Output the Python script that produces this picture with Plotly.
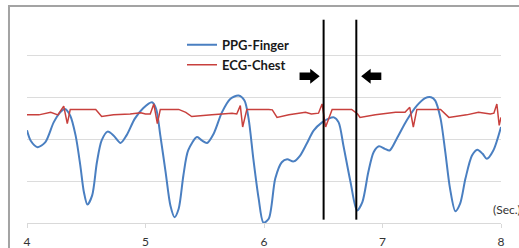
import plotly.graph_objects as go

# ---------------- data ----------------
ppg_t = [4.00, 4.03, 4.09, 4.155, 4.225, 4.28, 4.32, 4.365, 4.41, 4.45, 4.48, 4.51, 4.55, 4.59, 4.63,
         4.68, 4.73, 4.79, 4.84, 4.91, 4.98, 5.055, 5.09, 5.125, 5.17, 5.21, 5.245, 5.28, 5.32, 5.36,
         5.435, 5.475, 5.52, 5.575, 5.645, 5.715, 5.785, 5.835, 5.87, 5.91, 5.955, 5.995, 6.04, 6.095,
         6.15, 6.195, 6.25, 6.305, 6.36, 6.42, 6.49, 6.545, 6.59, 6.63, 6.67, 6.73, 6.785, 6.83, 6.88,
         6.925, 6.97, 7.02, 7.06, 7.12, 7.205, 7.29, 7.36, 7.41, 7.445, 7.49, 7.53, 7.57, 7.615, 7.655,
         7.70, 7.755, 7.80, 7.845, 7.88, 7.935, 8.00]
ppg_v = [2.21, 1.97, 1.81, 1.93, 2.40, 2.64, 2.72, 2.56, 2.09, 1.37, 0.74, 0.44, 0.66, 1.45, 1.97,
         2.18, 2.09, 1.91, 2.09, 2.49, 2.74, 2.88, 2.72, 2.09, 1.21, 0.42, 0.14, 0.34, 1.14, 1.73,
         2.05, 1.97, 1.91, 2.13, 2.64, 2.96, 3.04, 2.92, 2.49, 1.53, 0.58, 0.01, 0.10, 1.06,
         1.45, 1.52, 1.47, 1.61, 1.89, 2.21, 2.40, 2.49, 2.52, 2.40, 1.85, 0.98, 0.30, 0.50, 1.21,
         1.69, 1.83, 1.77, 1.73, 2.01, 2.45, 2.80, 2.98, 3.00, 2.92, 2.49, 1.69, 0.82, 0.28, 0.46,
         1.06, 1.61, 1.75, 1.65, 1.53, 1.73, 2.29]

ecg_t = [4.00, 4.10, 4.20, 4.26, 4.31, 4.34, 4.365, 4.45, 4.58, 4.63, 4.73, 4.87, 4.96,
         5.00, 5.04, 5.07, 5.10, 5.125, 5.28, 5.34, 5.39, 5.56, 5.73, 5.77, 5.80, 5.82, 5.855,
         6.04, 6.07, 6.11, 6.21, 6.35, 6.40, 6.46, 6.49, 6.52, 6.575, 6.74, 6.79, 6.81, 6.94,
         7.11, 7.19, 7.23, 7.26, 7.29, 7.49, 7.56, 7.71, 7.81, 7.91, 7.94, 7.965, 7.985, 8.00]
ecg_v = [2.58, 2.58, 2.64, 2.58, 2.79, 2.37, 2.71, 2.71, 2.71, 2.54, 2.58, 2.60, 2.63,
         2.60, 2.60, 2.84, 2.37, 2.71, 2.71, 2.64, 2.54, 2.58, 2.62, 2.60, 2.80, 2.29, 2.71,
         2.71, 2.70, 2.52, 2.58, 2.64, 2.60, 2.62, 2.84, 2.29, 2.71, 2.71, 2.60, 2.52, 2.58,
         2.64, 2.64, 2.76, 2.29, 2.71, 2.71, 2.52, 2.58, 2.64, 2.60, 2.62, 2.84, 2.33, 2.52]

marker_times = [6.503, 6.779]
marker_span = [0.08, 4.85]
x_ticks = [4, 5, 6, 7, 8]
x_tick_labels = ["4", "5", "6", "7", "8"]
unit_label = "(Sec.)"

# ---------------- figure ----------------
fig = go.Figure()
fig.add_trace(go.Scatter(x=ppg_t, y=ppg_v, mode="lines", name="PPG-Finger",
                         line=dict(color="#4a7fc1", width=2, shape="spline", smoothing=0.8),
                         legendgroup="a"))
fig.add_trace(go.Scatter(x=ecg_t, y=ecg_v, mode="lines", name="ECG-Chest",
                         line=dict(color="#c8403d", width=1.5),
                         legendgroup="b"))

shapes = []
for t in marker_times:
    shapes.append(dict(type="line", xref="x", yref="y", x0=t, x1=t,
                       y0=marker_span[0], y1=marker_span[1],
                       line=dict(color="black", width=2)))

# block arrows (decoration)
def block_arrow(x_start, x_head, x_tip, yc, shaft_h, head_h):
    return (f"M{x_start},{yc - shaft_h} L{x_head},{yc - shaft_h} L{x_head},{yc - head_h} "
            f"L{x_tip},{yc} L{x_head},{yc + head_h} L{x_head},{yc + shaft_h} "
            f"L{x_start},{yc + shaft_h} Z")

shapes.append(dict(type="path", xref="x", yref="y",
                   path=block_arrow(6.30, 6.39, 6.47, 3.50, 0.09, 0.18),
                   fillcolor="black", line=dict(width=0)))
shapes.append(dict(type="path", xref="x", yref="y",
                   path=block_arrow(6.99, 6.90, 6.82, 3.50, 0.09, 0.18),
                   fillcolor="black", line=dict(width=0)))

# outer frame
shapes.append(dict(type="rect", xref="paper", yref="paper", x0=-0.038, x1=1.2,
                   y0=-0.5, y1=1.033, line=dict(color="#a3a3a3", width=2), layer="below"))

fig.update_layout(
    width=519, height=248,
    margin=dict(l=27, r=18, t=13, b=25, autoexpand=False),
    paper_bgcolor="white", plot_bgcolor="white",
    showlegend=True,
    legend=dict(x=0.327, y=0.92, xanchor="left", yanchor="top",
                bgcolor="rgba(0,0,0,0)", traceorder="grouped", tracegroupgap=0,
                itemwidth=30,
                font=dict(family="Lato", size=13, color="#1a1a1a", weight="bold")),
    shapes=shapes,
    annotations=[dict(text=unit_label, xref="paper", yref="paper", x=0.979, y=0.062,
                      xanchor="left", yanchor="middle", showarrow=False,
                      font=dict(family="Lato", size=12, color="#333333"))],
    xaxis=dict(range=[4, 8], tickvals=x_ticks, ticktext=x_tick_labels, automargin=False,
               showgrid=False, zeroline=False, showline=True, linecolor="#d9d9d9", linewidth=1,
               ticks="outside", ticklen=4, tickcolor="#d9d9d9", ticklabelstandoff=4,
               tickfont=dict(family="Lato", size=12, color="#333333")),
    yaxis=dict(range=[0, 5.01], dtick=1, showticklabels=False, showgrid=True, automargin=False,
               gridcolor="#dcdcdc", gridwidth=1, zeroline=False, showline=False),
)

fig.write_html("out.html", config={"displayModeBar": False},
               post_script="document.body.style.margin='0px';")
